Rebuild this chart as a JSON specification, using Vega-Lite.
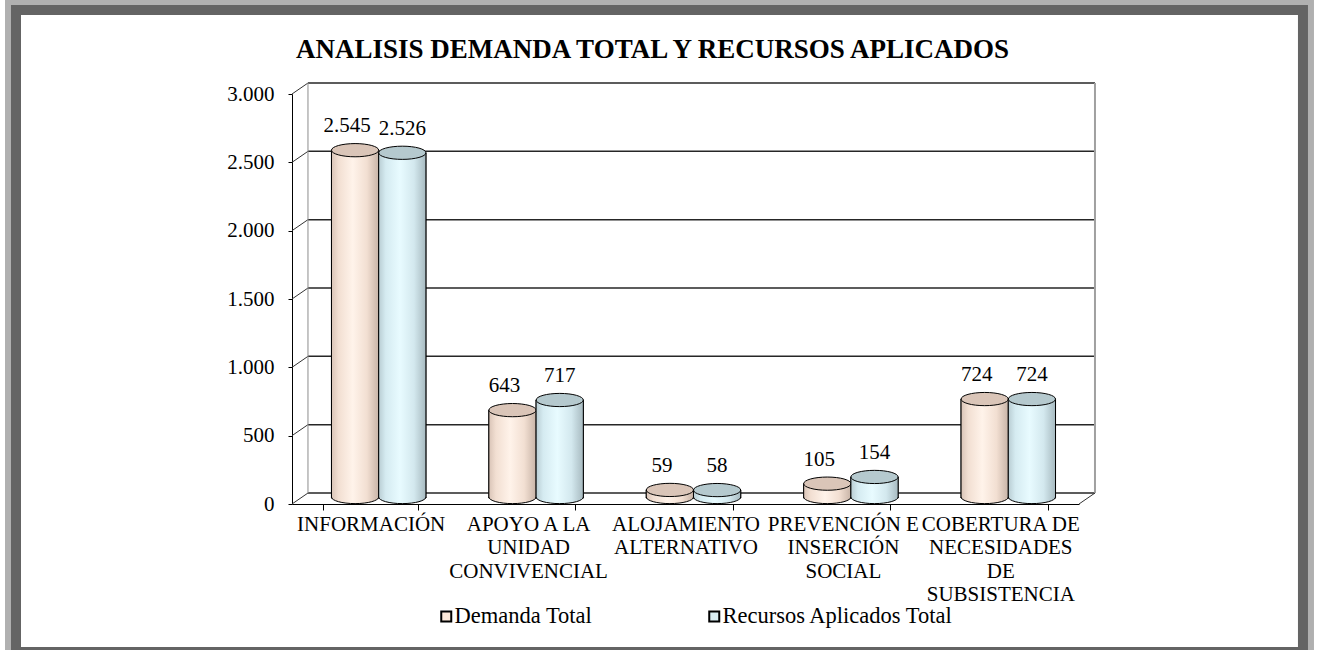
{
  "$schema": "https://vega.github.io/schema/vega-lite/v6.json",
  "width": 787,
  "height": 410,
  "autosize": {"type": "none"},
  "padding": {"left": 292, "top": 94, "right": 240, "bottom": 146},
  "background": "white",
  "config": {
    "locale": {"number": {"decimal": ",", "thousands": ".", "grouping": [3], "currency": ["", " €"]}},
    "font": "Liberation Serif",
    "view": {"stroke": null}
  },
  "title": {
    "text": "ANALISIS DEMANDA TOTAL Y RECURSOS APLICADOS",
    "font": "Liberation Serif",
    "fontSize": 27,
    "fontWeight": "bold",
    "color": "#000",
    "anchor": "middle",
    "offset": -65,
    "dx": -33
  },
  "datasets": {
    "barras": [
      {"categoria": "INFORMACIÓN", "serie": "Demanda Total", "valor": 2545},
      {"categoria": "INFORMACIÓN", "serie": "Recursos Aplicados Total", "valor": 2526},
      {"categoria": "APOYO A LA UNIDAD CONVIVENCIAL", "serie": "Demanda Total", "valor": 643},
      {"categoria": "APOYO A LA UNIDAD CONVIVENCIAL", "serie": "Recursos Aplicados Total", "valor": 717},
      {"categoria": "ALOJAMIENTO ALTERNATIVO", "serie": "Demanda Total", "valor": 59},
      {"categoria": "ALOJAMIENTO ALTERNATIVO", "serie": "Recursos Aplicados Total", "valor": 58},
      {"categoria": "PREVENCIÓN E INSERCIÓN SOCIAL", "serie": "Demanda Total", "valor": 105},
      {"categoria": "PREVENCIÓN E INSERCIÓN SOCIAL", "serie": "Recursos Aplicados Total", "valor": 154},
      {"categoria": "COBERTURA DE NECESIDADES DE SUBSISTENCIA", "serie": "Demanda Total", "valor": 724},
      {"categoria": "COBERTURA DE NECESIDADES DE SUBSISTENCIA", "serie": "Recursos Aplicados Total", "valor": 724}
    ],
    "rejilla": [{"v": 0}, {"v": 500}, {"v": 1000}, {"v": 1500}, {"v": 2000}, {"v": 2500}, {"v": 3000}]
  },
  "layer": [
    {
      "layer": [
        {
          "data": {"values": [{"marco": 1}]},
          "mark": {"type": "rect", "filled": false, "stroke": "#b0b0b0", "strokeWidth": 16},
          "encoding": {
            "x": {"datum": -0.3545, "type": "quantitative", "scale": {"domain": [0, 1], "nice": false, "zero": false}, "axis": null},
            "x2": {"datum": 1.2884},
            "y": {"datum": 3637, "type": "quantitative", "scale": {"domain": [0, 3000], "nice": false}, "axis": null},
            "y2": {"datum": -1105}
          }
        },
        {
          "data": {"values": [{"marco": 1}]},
          "mark": {"type": "rect", "filled": false, "stroke": "#646464", "strokeWidth": 10},
          "encoding": {
            "x": {"datum": -0.3507, "type": "quantitative", "scale": {"domain": [0, 1], "nice": false, "zero": false}, "axis": null},
            "x2": {"datum": 1.2846},
            "y": {"datum": 3615, "type": "quantitative", "scale": {"domain": [0, 3000], "nice": false}, "axis": null},
            "y2": {"datum": -1083}
          }
        },
        {
          "data": {"name": "rejilla"},
          "mark": {"type": "rule", "stroke": "#262626", "strokeWidth": 1.5, "yOffset": -11},
          "encoding": {
            "x": {"datum": 0.0203, "type": "quantitative", "scale": {"domain": [0, 1], "nice": false, "zero": false}, "axis": null},
            "x2": {"datum": 1.0203},
            "y": {"field": "v", "type": "quantitative", "scale": {"domain": [0, 3000], "nice": false}, "axis": null}
          }
        },
        {
          "data": {"name": "rejilla"},
          "mark": {"type": "rule", "stroke": "#333333", "strokeWidth": 1, "y2Offset": -11},
          "encoding": {
            "x": {"datum": 0, "type": "quantitative", "scale": {"domain": [0, 1], "nice": false, "zero": false}, "axis": null},
            "x2": {"datum": 0.0203},
            "y": {"field": "v", "type": "quantitative", "scale": {"domain": [0, 3000], "nice": false}, "axis": null},
            "y2": {"field": "v"}
          }
        },
        {
          "data": {"values": [{"pared": 1}]},
          "mark": {"type": "rule", "stroke": "#8c8c8c", "strokeWidth": 1, "yOffset": -11, "y2Offset": -11},
          "encoding": {
            "x": {"datum": 0.0203, "type": "quantitative", "scale": {"domain": [0, 1], "nice": false, "zero": false}, "axis": null},
            "y": {"datum": 0, "type": "quantitative", "scale": {"domain": [0, 3000], "nice": false}, "axis": null},
            "y2": {"datum": 3000}
          }
        },
        {
          "data": {"values": [{"pared": 1}]},
          "mark": {"type": "rule", "stroke": "#a0a0a0", "strokeWidth": 2, "yOffset": -11, "y2Offset": -11},
          "encoding": {
            "x": {"datum": 1.0203, "type": "quantitative", "scale": {"domain": [0, 1], "nice": false, "zero": false}, "axis": null},
            "y": {"datum": 0, "type": "quantitative", "scale": {"domain": [0, 3000], "nice": false}, "axis": null},
            "y2": {"datum": 3000}
          }
        },
        {
          "data": {"values": [{"pared": 1}]},
          "mark": {"type": "rule", "stroke": "#333333", "strokeWidth": 1, "y2Offset": -11},
          "encoding": {
            "x": {"datum": 1, "type": "quantitative", "scale": {"domain": [0, 1], "nice": false, "zero": false}, "axis": null},
            "x2": {"datum": 1.0203},
            "y": {"datum": 0, "type": "quantitative", "scale": {"domain": [0, 3000], "nice": false}, "axis": null},
            "y2": {"datum": 0}
          }
        }
      ]
    },
    {
      "data": {"name": "barras"},
      "encoding": {
        "x": {
          "field": "categoria",
          "type": "nominal",
          "scale": {
            "domain": ["INFORMACIÓN", "APOYO A LA UNIDAD CONVIVENCIAL", "ALOJAMIENTO ALTERNATIVO", "PREVENCIÓN E INSERCIÓN SOCIAL", "COBERTURA DE NECESIDADES DE SUBSISTENCIA"],
            "paddingInner": 0.4,
            "paddingOuter": 0.2,
            "align": 0.627
          },
          "axis": null
        },
        "xOffset": {
          "field": "serie",
          "type": "nominal",
          "scale": {"domain": ["Demanda Total", "Recursos Aplicados Total"], "paddingInner": 0, "paddingOuter": 0}
        },
        "y": {
          "field": "valor",
          "type": "quantitative",
          "scale": {"domain": [0, 3000], "nice": false},
          "axis": {
            "title": null,
            "values": [0, 500, 1000, 1500, 2000, 2500, 3000],
            "format": ",d",
            "labelFontSize": 21,
            "labelFont": "Liberation Serif",
            "labelColor": "#000",
            "labelPadding": 14,
            "tickSize": 4,
            "tickColor": "#000",
            "domainColor": "#000",
            "grid": false
          }
        }
      },
      "layer": [
        {
          "mark": {"type": "text", "text": ""},
          "encoding": {
            "x": {
              "field": "categoria",
              "type": "nominal",
              "scale": {
                "domain": ["INFORMACIÓN", "APOYO A LA UNIDAD CONVIVENCIAL", "ALOJAMIENTO ALTERNATIVO", "PREVENCIÓN E INSERCIÓN SOCIAL", "COBERTURA DE NECESIDADES DE SUBSISTENCIA"],
                "paddingInner": 0.4,
                "paddingOuter": 0.2
              },
              "axis": {
                "title": null,
                "labelExpr": "datum.value == 'APOYO A LA UNIDAD CONVIVENCIAL' ? ['APOYO A LA', 'UNIDAD', 'CONVIVENCIAL'] : datum.value == 'ALOJAMIENTO ALTERNATIVO' ? ['ALOJAMIENTO', 'ALTERNATIVO'] : datum.value == 'PREVENCIÓN E INSERCIÓN SOCIAL' ? ['PREVENCIÓN E', 'INSERCIÓN', 'SOCIAL'] : datum.value == 'COBERTURA DE NECESIDADES DE SUBSISTENCIA' ? ['COBERTURA DE', 'NECESIDADES', 'DE', 'SUBSISTENCIA'] : datum.value",
                "labelFontSize": 21,
                "labelFont": "Liberation Serif",
                "labelColor": "#000",
                "labelLineHeight": 23.5,
                "labelPadding": 3,
                "labelAngle": 0,
                "labelLimit": 0,
                "labelOverlap": false,
                "labelBound": false,
                "tickBand": "extent",
                "tickSize": 6,
                "tickColor": "#000",
                "domainColor": "#000",
                "grid": false
              }
            }
          }
        },
        {
          "mark": {"type": "bar", "yOffset": -6, "y2Offset": -6, "stroke": "#000", "strokeWidth": 1},
          "encoding": {
            "color": {
              "field": "serie",
              "type": "nominal",
              "scale": {"domain": ["Demanda Total", "Recursos Aplicados Total"], "range": ["#FDE9D9", "#DAEEF3"]},
              "legend": {
                "orient": "none",
                "legendX": 143,
                "legendY": 511,
                "direction": "horizontal",
                "title": null,
                "symbolType": "square",
                "symbolSize": 100,
                "symbolStrokeColor": "#000",
                "symbolStrokeWidth": 2,
                "labelFontSize": 22.5,
                "labelFont": "Liberation Serif",
                "labelColor": "#000",
                "labelOffset": -3,
                "columnPadding": 110,
                "labelLimit": 0
              }
            }
          }
        },
        {
          "transform": [{"filter": "datum.serie == 'Demanda Total'"}],
          "mark": {
            "type": "bar", "yOffset": -6, "y2Offset": -6, "stroke": "#000", "strokeWidth": 1,
            "fill": {"gradient": "linear", "x1": 0, "y1": 0, "x2": 1, "y2": 0, "stops": [
              {"offset": 0, "color": "#d9c4b7"}, {"offset": 0.15, "color": "#f2dfd2"}, {"offset": 0.45, "color": "#fff3ea"}, {"offset": 0.75, "color": "#f2dfd2"}, {"offset": 1, "color": "#c8b4a7"}]}
          }
        },
        {
          "transform": [{"filter": "datum.serie == 'Demanda Total'"}],
          "mark": {
            "type": "point", "shape": "M-1,0A1,0.28,0,0,0,1,0", "size": 2228, "filled": true, "opacity": 1, "yOffset": -7, "stroke": "#000", "strokeWidth": 1,
            "fill": {"gradient": "linear", "x1": 0, "y1": 0, "x2": 1, "y2": 0, "stops": [
              {"offset": 0, "color": "#d9c4b7"}, {"offset": 0.15, "color": "#f2dfd2"}, {"offset": 0.45, "color": "#fff3ea"}, {"offset": 0.75, "color": "#f2dfd2"}, {"offset": 1, "color": "#c8b4a7"}]}
          },
          "encoding": {
            "y": {
              "datum": 0,
              "type": "quantitative",
              "scale": {"domain": [0, 3000], "nice": false},
              "axis": {
                "title": null,
                "values": [0, 500, 1000, 1500, 2000, 2500, 3000],
                "format": ",d",
                "labelFontSize": 21,
                "labelFont": "Liberation Serif",
                "labelColor": "#000",
                "labelPadding": 14,
                "tickSize": 4,
                "tickColor": "#000",
                "domainColor": "#000",
                "grid": false
              }
            }
          }
        },
        {
          "transform": [{"filter": "datum.serie == 'Demanda Total'"}],
          "mark": {"type": "point", "shape": "M-1,0A1,0.28,0,1,1,1,0A1,0.28,0,1,1,-1,0Z", "size": 2228, "filled": true, "opacity": 1, "yOffset": -6, "stroke": "#000", "strokeWidth": 1, "fill": "#dac5b8"}
        },
        {
          "transform": [{"filter": "datum.serie == 'Recursos Aplicados Total'"}],
          "mark": {
            "type": "bar", "yOffset": -6, "y2Offset": -6, "stroke": "#000", "strokeWidth": 1,
            "fill": {"gradient": "linear", "x1": 0, "y1": 0, "x2": 1, "y2": 0, "stops": [
              {"offset": 0, "color": "#b9cdd3"}, {"offset": 0.15, "color": "#d5ebf1"}, {"offset": 0.45, "color": "#e8fbff"}, {"offset": 0.75, "color": "#d3e8ee"}, {"offset": 1, "color": "#a7bac0"}]}
          }
        },
        {
          "transform": [{"filter": "datum.serie == 'Recursos Aplicados Total'"}],
          "mark": {
            "type": "point", "shape": "M-1,0A1,0.28,0,0,0,1,0", "size": 2228, "filled": true, "opacity": 1, "yOffset": -7, "stroke": "#000", "strokeWidth": 1,
            "fill": {"gradient": "linear", "x1": 0, "y1": 0, "x2": 1, "y2": 0, "stops": [
              {"offset": 0, "color": "#b9cdd3"}, {"offset": 0.15, "color": "#d5ebf1"}, {"offset": 0.45, "color": "#e8fbff"}, {"offset": 0.75, "color": "#d3e8ee"}, {"offset": 1, "color": "#a7bac0"}]}
          },
          "encoding": {
            "y": {
              "datum": 0,
              "type": "quantitative",
              "scale": {"domain": [0, 3000], "nice": false},
              "axis": {
                "title": null,
                "values": [0, 500, 1000, 1500, 2000, 2500, 3000],
                "format": ",d",
                "labelFontSize": 21,
                "labelFont": "Liberation Serif",
                "labelColor": "#000",
                "labelPadding": 14,
                "tickSize": 4,
                "tickColor": "#000",
                "domainColor": "#000",
                "grid": false
              }
            }
          }
        },
        {
          "transform": [{"filter": "datum.serie == 'Recursos Aplicados Total'"}],
          "mark": {"type": "point", "shape": "M-1,0A1,0.28,0,1,1,1,0A1,0.28,0,1,1,-1,0Z", "size": 2228, "filled": true, "opacity": 1, "yOffset": -6, "stroke": "#000", "strokeWidth": 1, "fill": "#b5c9ce"}
        },
        {
          "transform": [{"filter": "datum.serie == 'Demanda Total'"}],
          "mark": {"type": "text", "fontSize": 21, "font": "Liberation Serif", "color": "#000", "baseline": "middle", "dy": -30, "dx": -8},
          "encoding": {"text": {"field": "valor", "type": "quantitative", "format": ",d"}}
        },
        {
          "transform": [{"filter": "datum.serie == 'Recursos Aplicados Total'"}],
          "mark": {"type": "text", "fontSize": 21, "font": "Liberation Serif", "color": "#000", "baseline": "middle", "dy": -30},
          "encoding": {"text": {"field": "valor", "type": "quantitative", "format": ",d"}}
        }
      ],
      "resolve": {"scale": {"x": "independent"}}
    }
  ],
  "resolve": {"scale": {"x": "independent", "y": "independent"}}
}
